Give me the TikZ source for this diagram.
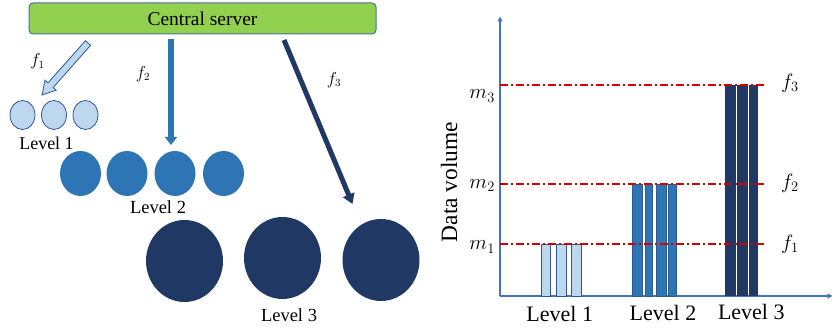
\documentclass[tikz,border=0pt]{standalone}
\usepackage{fontspec}
\setmainfont{Liberation Serif}
\usetikzlibrary{arrows.meta,shapes.geometric}
\definecolor{srvgreen}{HTML}{92D050}
\definecolor{srvborder}{HTML}{41719C}
\definecolor{lblue}{HTML}{BDD7EE}
\definecolor{lborder}{HTML}{2F5597}
\definecolor{mblue}{HTML}{2E75B6}
\definecolor{mborder}{HTML}{2E5C8F}
\definecolor{dnavy}{HTML}{203864}
\definecolor{axisblue}{HTML}{4472C4}
\definecolor{dashred}{HTML}{D40000}
\tikzset{
  servbox/.style={draw=srvborder, fill=srvgreen, line width=1pt, rounded corners=4pt,
    minimum width=347pt, minimum height=31pt, inner sep=0pt,
    font=\fontsize{19.5}{22}\selectfont},
  lvonec/.style={ellipse, draw=lborder, fill=lblue, line width=0.8pt, inner sep=0pt,
    minimum width=25pt, minimum height=29pt},
  lvtwoc/.style={ellipse, fill=mblue, inner sep=0pt, minimum width=41pt, minimum height=45pt},
  lvthreec/.style={ellipse, fill=dnavy, inner sep=0pt, minimum width=77pt, minimum height=82pt},
  lvtext/.style={inner sep=0pt, anchor=base, font=\fontsize{18.5}{21}\selectfont},
  chtext/.style={inner sep=0pt, anchor=base, font=\fontsize{22}{25}\selectfont},
  flabel/.style={inner sep=0pt, font=\fontsize{16}{19}\selectfont},
  mlabel/.style={inner sep=0pt, font=\fontsize{20}{23}\selectfont},
  barone/.style={draw=lborder, fill=lblue, line width=0.8pt},
  bartwo/.style={draw=mborder, fill=mblue, line width=0.8pt},
  barthree/.style={fill=dnavy},
  refline/.style={draw=dashred, line width=1.6pt, dash pattern=on 8pt off 3pt on 2pt off 3pt},
  axisline/.style={draw=axisblue, line width=1.2pt, -{Triangle[width=5pt,length=5pt]}},
}
\begin{document}
\begin{tikzpicture}[x=1pt,y=-1pt]
\useasboundingbox (0,0) rectangle (833,328);

% ---------- left part ----------
\node[servbox] (srv) at (202.5,18.5) {};
\node[inner sep=0pt, anchor=base, font=\fontsize{19.5}{22}\selectfont] (srvtext) at (202.5,26) {Central server};

% f1 hollow block arrow
\fill[lblue, draw=lborder, line width=0.8pt, line join=miter]
  (90.6,45.3) -- (53.2,87.5) -- (56.2,90.2) -- (42,95) -- (45.0,80.2) -- (48.0,82.9) -- (85.4,40.7) -- cycle;

% f2 arrow
\coordinate (f2s) at (171,39);
\coordinate (f2e) at (171,145);
\draw[mblue, line width=6pt, -{Triangle[width=12pt,length=8pt]}] (f2s) -- (f2e);

% f3 arrow
\coordinate (f3s) at (284,40);
\coordinate (f3e) at (352.5,204);
\draw[dnavy, line width=5pt, -{Triangle[width=12pt,length=10pt]}] (f3s) -- (f3e);

\node[flabel] (lf1) at (37.5,61.5) {$f_1$};
\node[flabel] (lf2) at (143,74) {$f_2$};
\node[flabel] (lf3) at (334,80) {$f_3$};

% Level 1
\node[lvonec] (a1) at (22.5,115) {};
\node[lvonec] (a2) at (54,115) {};
\node[lvonec] (a3) at (85.5,115) {};
\node[lvtext, font=\fontsize{18}{21}\selectfont] (la1) at (46.5,150) {Level 1};

% Level 2
\node[lvtwoc] (b1) at (80.5,173.5) {};
\node[lvtwoc] (b2) at (127,173.5) {};
\node[lvtwoc] (b3) at (175,173.5) {};
\node[lvtwoc] (b4) at (223.5,173.5) {};
\node[lvtext] (lb) at (158,214) {Level 2};

% Level 3
\node[lvthreec] (c1) at (184.5,261) {};
\node[lvthreec] (c2) at (282.5,258) {};
\node[lvthreec] (c3) at (381,260) {};
\node[lvtext] (lc) at (289,322) {Level 3};

% ---------- right chart ----------
\coordinate (orig) at (500,296);
\coordinate (ytop) at (500,16.5);
\coordinate (xend) at (832.5,296);
\draw[axisline] (orig) -- (ytop);
\draw[axisline] (orig) -- (xend);

% bars level 1
\draw[barone] (541,244) rectangle (550.7,296);
\draw[barone] (556,244) rectangle (566.7,296);
\draw[barone] (571.7,244) rectangle (581.7,296);
% bars level 2
\draw[bartwo] (632.3,184) rectangle (642,296);
\draw[bartwo] (645,184) rectangle (652.7,296);
\draw[bartwo] (656.3,184) rectangle (666,296);
\draw[bartwo] (668.7,184) rectangle (676.7,296);
% bars level 3
\fill[barthree] (725,85) rectangle (735.7,296);
\fill[barthree] (737,85) rectangle (747.7,296);
\fill[barthree] (749,85) rectangle (758,296);

% reference lines
\coordinate (r3a) at (500,85);   \coordinate (r3b) at (765,85);
\coordinate (r2a) at (500,184); \coordinate (r2b) at (765,184);
\coordinate (r1a) at (500,244);  \coordinate (r1b) at (765,244);
\draw[refline] (r3a) -- (r3b);
\draw[refline] (r2a) -- (r2b);
\draw[refline] (r1a) -- (r1b);

\node[mlabel, anchor=base east] (m3) at (495,99) {$m_3$};
\node[mlabel, anchor=base east] (m2) at (495,188.5) {$m_2$};
\node[mlabel, anchor=base east] (m1) at (495,250) {$m_1$};
\node[mlabel, anchor=west] (rf3) at (781,83) {$f_3$};
\node[mlabel, anchor=west] (rf2) at (781,183) {$f_2$};
\node[mlabel, anchor=west] (rf1) at (781,244) {$f_1$};

\node[inner sep=0pt, rotate=90, font=\fontsize{23.4}{26}\selectfont] (dv) at (449,182) {Data volume};

\node[chtext] (x1) at (559.7,322) {Level 1};
\node[chtext] (x2) at (663,320.5) {Level 2};
\node[chtext] (x3) at (751.3,320) {Level 3};
\end{tikzpicture}
\end{document}
